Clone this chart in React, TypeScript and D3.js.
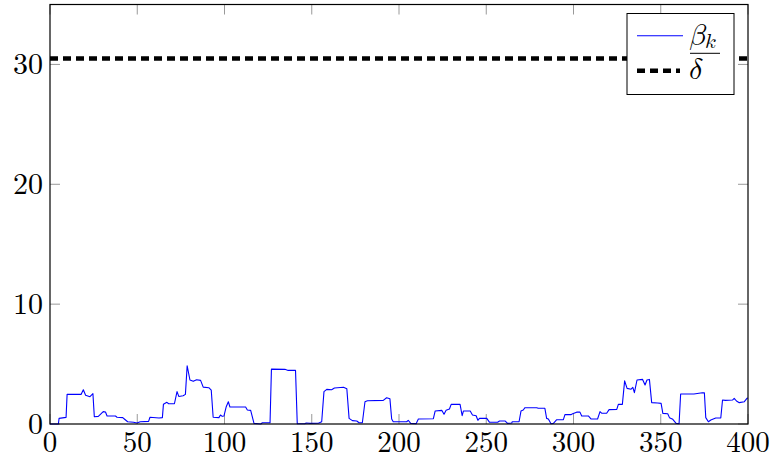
import React from "react";
import * as d3 from "d3";

// ---- data ----
const stepK: number[] = [
  0, 4.8, 5.2, 9.2, 9.8, 17.8, 19.1, 20.4, 22.9, 24.6, 25.4, 27.7, 30.5, 31.8, 32.7, 37.5, 38.4, 41.7, 42.6, 44.5,
  47.9, 49.8, 51.7, 56.5, 57.3, 62.5, 64.4, 65, 67, 68, 71.3, 72.8, 73.8, 76.3, 77.6, 78.6, 80.2, 82.1, 84, 86.3,
  87.8, 91, 92.4, 93.5, 96.8, 97.7, 98.7, 99.7, 101, 102.2, 103.1, 112.1, 113.1, 115, 116.9, 120.8, 121.7, 126.1, 126.9, 134.6,
  136.5, 140.7, 141.7, 146, 146.8, 149, 153.8, 155.7, 157, 158.6, 161.4, 163, 168.2, 170.1, 171.4, 173.3, 175.8, 177.1, 179, 180.5,
  181.9, 191, 192.9, 194.8, 195.8, 196.7, 204.4, 205.3, 206.7, 209.8, 211.1, 219.7, 220.7, 224.5, 225.8, 227, 228.9, 229.9, 235, 236.2,
  236.9, 240.8, 242.1, 244.2, 245.2, 246.1, 250.3, 251.9, 256.5, 257.6, 260.9, 262.2, 264.6, 264.9, 268.8, 269.9, 271.2, 272.2, 278.9, 279.8,
  283.6, 284.6, 285.6, 287.1, 288.5, 290.4, 294.2, 295.1, 298.5, 299.5, 301.8, 303.7, 304.7, 308.5, 310, 313.8, 315.2, 316.1, 319, 320.4,
  324.8, 325.7, 328, 329.3, 330.7, 333, 334, 334.9, 336.4, 339.6, 341, 342.1, 343.5, 344.8, 348.2, 350.2, 351.2, 354, 355, 356.9,
  358.8, 360.5, 361.4, 369, 373.8, 375, 375.8, 377.3, 378.7, 381.5, 384.4, 385.4, 387, 391.1, 392.1, 393.4, 395, 397.9, 399.4, 400,
];
const betaValues: number[] = [
  0, 0, 0.47, 0.55, 2.47, 2.47, 2.86, 2.4, 2.28, 2.53, 0.61, 0.64, 1.03, 1.0, 0.67, 0.67, 0.56, 0.53, 0.42, 0.19,
  0.14, 0.08, 0.19, 0.22, 0.56, 0.5, 0.53, 1.64, 1.81, 1.69, 1.69, 2.7, 2.3, 2.36, 2.47, 4.86, 3.67, 3.56, 3.69, 3.64,
  3.08, 3.03, 2.83, 0.56, 0.53, 0.75, 0.64, 0.67, 1.44, 1.86, 1.42, 1.42, 1.17, 1.14, 0.05, 0, 0.1, 0.1, 4.58, 4.56,
  4.47, 4.47, 0.02, 0.02, 0.08, 0.05, 0.06, 0.19, 2.7, 2.89, 2.86, 3.0, 3.06, 2.94, 0.47, 0.28, 0.25, 0.1, 0.1, 1.86,
  1.94, 1.97, 2.19, 2.1, 0.42, 0.19, 0.19, 0.31, 0.05, 0.03, 0.42, 0.44, 1.08, 1.14, 0.81, 1.14, 1.25, 1.64, 1.64, 0.69,
  1.08, 1.08, 0.75, 0.69, 0.31, 0.47, 0.47, 0.14, 0.14, 0.25, 0.25, 0.05, 0.08, 0.19, 0.19, 1.08, 1.17, 1.36, 1.36, 1.31,
  1.31, 0.47, 0.42, 0.02, 0.05, 0.36, 0.36, 0.78, 0.78, 0.85, 0.99, 0.99, 0.67, 0.67, 0.42, 0.42, 1.03, 0.9, 0.9, 1.2,
  1.22, 1.64, 1.64, 3.6, 2.97, 2.9, 3.05, 2.61, 3.67, 3.72, 3.25, 3.67, 3.72, 1.78, 1.75, 1.72, 0.89, 0.86, 0.53, 0.39,
  0.05, 0.03, 2.5, 2.5, 2.61, 2.6, 0.53, 0.19, 0.33, 0.5, 0.5, 2.0, 1.97, 2.0, 2.14, 1.92, 1.78, 1.86, 2.14, 2.17,
];
const deltaValue = 30.5;
const xTicks: number[] = [0, 50, 100, 150, 200, 250, 300, 350, 400];
const yTicks: number[] = [0, 10, 20, 30];
const xDomain: [number, number] = [0, 400];
const yDomain: [number, number] = [0, 35];

const W = 771;
const H = 459;
const M = { left: 50, right: 23, top: 4.5, bottom: 35 };
const FONT = "Latin Modern Roman";
const MATHFONT = "Latin Modern Math";

export default function App() {
  const x = d3.scaleLinear().domain(xDomain).range([M.left, W - M.right]);
  const y = d3.scaleLinear().domain(yDomain).range([H - M.bottom, M.top]);
  const pts: [number, number][] = stepK.map((k, i) => [k, betaValues[i]]);
  const line = d3
    .line<[number, number]>()
    .x((d) => x(d[0]))
    .y((d) => y(d[1]));
  const x0 = x(xDomain[0]);
  const x1 = x(xDomain[1]);
  const y0 = y(yDomain[0]);
  const y1 = y(yDomain[1]);
  const tickLen = 10;
  const tickColor = "#999";

  const lg = { x: 627, y: 13.5, w: 107, h: 81 };
  const textStyle: React.CSSProperties = { fontFamily: FONT };
  const mathStyle: React.CSSProperties = { fontFamily: MATHFONT };

  return (
    <svg width={W} height={H} style={{ position: "absolute", left: 0, top: 0, background: "#fff" }}>
      {xTicks.map((t) => (
        <g key={"xt" + t}>
          <line x1={x(t)} x2={x(t)} y1={y0} y2={y0 - tickLen} stroke={tickColor} strokeWidth={1} />
          <line x1={x(t)} x2={x(t)} y1={y1} y2={y1 + tickLen} stroke={tickColor} strokeWidth={1} />
          <text x={x(t)} y={y0 + 28} fontSize={29} textAnchor="middle" fill="#000" style={textStyle}>
            {t}
          </text>
        </g>
      ))}
      {yTicks.map((t) => (
        <g key={"yt" + t}>
          <line x1={x0} x2={x0 + tickLen} y1={y(t)} y2={y(t)} stroke={tickColor} strokeWidth={1} />
          <line x1={x1} x2={x1 - tickLen} y1={y(t)} y2={y(t)} stroke={tickColor} strokeWidth={1} />
          <text x={x0 - 7} y={y(t) + 10} fontSize={30} textAnchor="end" fill="#000" style={textStyle}>
            {t}
          </text>
        </g>
      ))}

      <line
        x1={x0}
        x2={x1}
        y1={y(deltaValue)}
        y2={y(deltaValue)}
        stroke="#000"
        strokeWidth={4.5}
        strokeDasharray="8 5"
      />

      <path d={line(pts) || ""} fill="none" stroke="#0000ff" strokeWidth={1.1} strokeLinejoin="round" />

      <rect x={x0} y={y1} width={x1 - x0} height={y0 - y1} fill="none" stroke="#000" strokeWidth={1.2} />

      <g>
        <rect x={lg.x} y={lg.y} width={lg.w} height={lg.h} fill="#fff" stroke="#000" strokeWidth={1} />
        <line x1={637} x2={683} y1={35.7} y2={35.7} stroke="#0000ff" strokeWidth={1.1} />
        <line x1={637} x2={680} y1={70.7} y2={70.7} stroke="#000" strokeWidth={4.5} strokeDasharray="8 5" />
        <text x={689} y={45} fontSize={30} fill="#000" style={mathStyle}>
          𝛽
        </text>
        <text x={705} y={48} fontSize={21} fill="#000" style={mathStyle}>
          𝑘
        </text>
        <line x1={690} x2={720} y1={53.3} y2={53.3} stroke="#000" strokeWidth={1} />
        <text x={689} y={79} fontSize={30} fill="#000" style={mathStyle}>
          𝛿
        </text>
      </g>
    </svg>
  );
}
